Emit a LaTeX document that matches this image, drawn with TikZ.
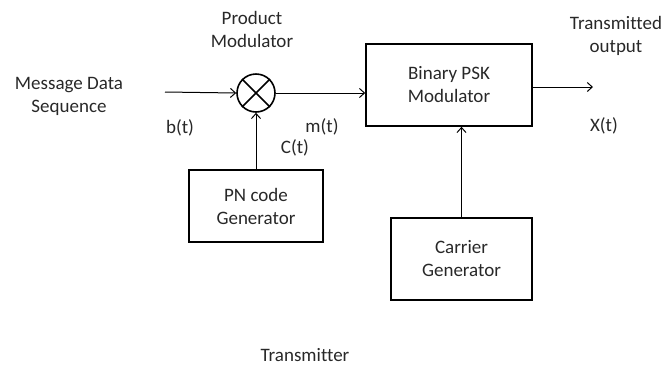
\documentclass[tikz,border=0pt]{standalone}
\usepackage{fontspec}
\setmainfont[Ligatures=NoCommon]{Carlito}
\usetikzlibrary{shapes.geometric, arrows, arrows.meta, positioning}
\definecolor{txtgray}{RGB}{40, 40, 40}

\begin{document}
\begin{tikzpicture}[x=1pt, y=-1pt,
    every node/.style={font=\fontsize{19}{23}\selectfont, text=txtgray, align=center},
    block/.style={draw, line width=1.6pt, rectangle, inner sep=0pt},
    mixer/.style={draw, line width=1.6pt, circle, minimum size=38pt, inner sep=0pt},
    sig/.style={-{Straight Barb[length=5pt, width=9pt]}, line width=1pt}]
    \useasboundingbox (0,0) rectangle (662,368);
    % blocks
    \node[mixer] (mult) at (256,93) {};
    \draw[line width=1.6pt] (mult.45) -- (mult.225) (mult.135) -- (mult.315);
    \node[block, minimum width=166pt, minimum height=82pt] (bpsk) at (449,85) {Binary PSK\\Modulator};
    \node[block, minimum width=134pt, minimum height=72pt] (pn) at (256,206) {PN code\\Generator};
    \node[block, minimum width=141pt, minimum height=82pt] (carrier) at (461.5,259) {Carrier\\Generator};
    % labels
    \node (prodlbl) at (252,29) {Product\\Modulator};
    \node (msg) at (69,96.5) {Message Data\\Sequence};
    \node (trans) at (616,35.5) {Transmitted\\output};
    \node (bt) at (180,128) {b(t)};
    \node (mt) at (322,127) {m(t)};
    \node (ct) at (295,148) {C(t)};
    \node (xt) at (604,126) {X(t)};
    \node (txlbl) at (305,355) {Transmitter};
    \coordinate (msgin) at (165,92);
    \coordinate (xout) at (593,87);
    % connectors
    \draw[sig] (msgin) -- (mult.west);
    \draw[sig] (mult.east) -- (mult.east -| bpsk.west);
    \draw[sig] (pn.north) -- (mult.south);
    \draw[sig] (carrier.north) -- (carrier.north |- bpsk.south);
    \draw[sig] (bpsk.east |- xout) -- (xout);
\end{tikzpicture}
\end{document}
